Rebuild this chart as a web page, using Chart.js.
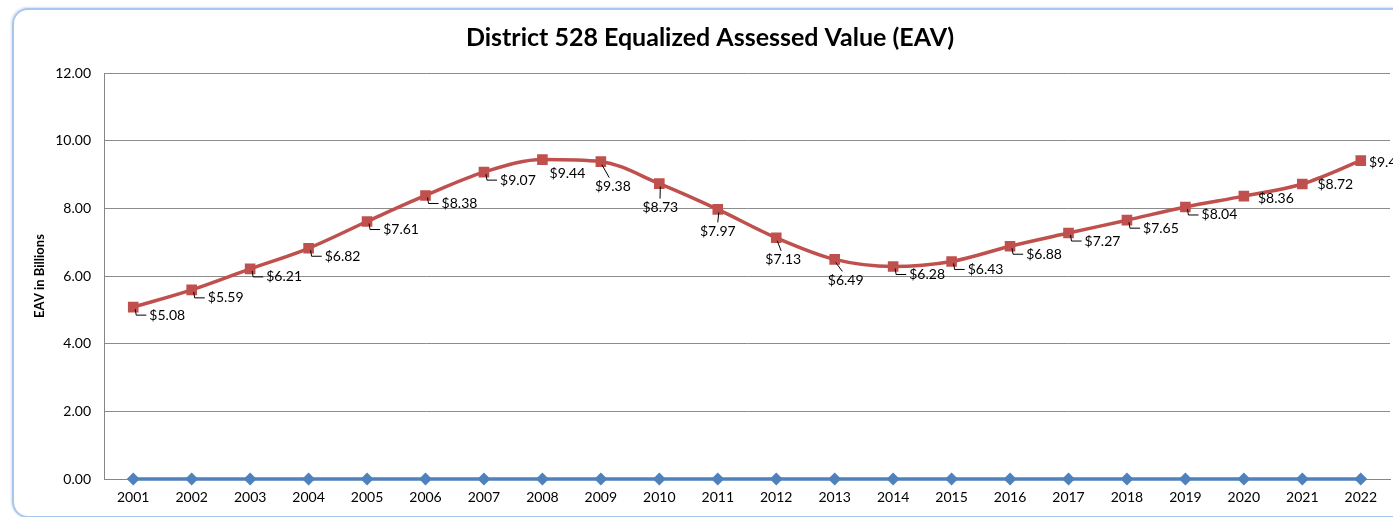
<!DOCTYPE html>
<html>
<head>
<meta charset="utf-8">
<title>District 528 EAV</title>
<script src="https://cdn.jsdelivr.net/npm/chart.js@4/dist/chart.umd.min.js"></script>
<style>
  html, body { margin: 0; padding: 0; background: #ffffff; overflow: hidden; }
  body { width: 1393px; height: 517px; position: relative; }
  #frame {
    position: absolute; left: 12px; top: 8px; width: 1440px; height: 506px;
    border: 2px solid #a9c6ec; border-radius: 16px;
    box-shadow: -1px -1px 2px #d3e3f7, 1px 1px 2px #c6d5e8;
  }
  #wrap { position: absolute; left: 0; top: 0; width: 1420px; height: 517px; }
</style>
</head>
<body>
<div id="frame"></div>
<div id="wrap"><canvas id="eavChart"></canvas></div>
<script>
// Data
const years = ["2001", "2002", "2003", "2004", "2005", "2006", "2007", "2008", "2009", "2010", "2011",
  "2012", "2013", "2014", "2015", "2016", "2017", "2018", "2019", "2020", "2021", "2022"];
const eavValues = [5.08, 5.59, 6.21, 6.82, 7.61, 8.38, 9.07, 9.44, 9.38, 8.73, 7.97,
  7.13, 6.49, 6.28, 6.43, 6.88, 7.27, 7.65, 8.04, 8.36, 8.72, 9.41];
const baseValues = [0, 0, 0, 0, 0, 0, 0, 0, 0, 0, 0, 0, 0, 0, 0, 0, 0, 0, 0, 0, 0, 0];
const yTicks = [0, 2, 4, 6, 8, 10, 12];

// label placement (text centre offset from point, leader line yes/no)
const R = [34, 8, true];
const labelPlacement = [R, R, R, R, R, R, R,
  [25, 14, false], [12, 25, true], [1, 24, true], [0, 22, true], [7, 22, true], [11, 21, true],
  R, R, R, R, R, R,
  [32, 2, false], [33, 1, false], [26, 2, false]];

const FONT = "Lato, 'Open Sans', sans-serif";

// draws "$x.xx" labels with small leader lines
const valueLabels = {
  id: "valueLabels",
  afterDatasetsDraw(chart) {
    const meta = chart.getDatasetMeta(0);
    const ctx = chart.ctx;
    ctx.save();
    ctx.font = "14px " + FONT;
    ctx.fillStyle = "#000000";
    ctx.strokeStyle = "#000000";
    ctx.lineWidth = 1;
    ctx.textAlign = "center";
    ctx.textBaseline = "middle";
    meta.data.forEach(function (pt, i) {
      const text = "$" + eavValues[i].toFixed(2);
      const p = labelPlacement[i];
      const tx = pt.x + p[0];
      const ty = pt.y + p[1];
      if (p[2]) {
        ctx.beginPath();
        if (p[0] > 20) {
          const left = tx - ctx.measureText(text).width / 2;
          ctx.moveTo(pt.x + 2, pt.y + 2);
          ctx.lineTo(pt.x + 3, ty);
          ctx.lineTo(left - 3, ty);
        } else {
          ctx.moveTo(pt.x + 1, pt.y + 3);
          ctx.lineTo(pt.x + p[0] * 0.7, ty - 9);
        }
        ctx.stroke();
      }
      ctx.fillText(text, tx, ty);
    });
    ctx.restore();
  },
};

document.addEventListener("DOMContentLoaded", function () {
  const ctx = document.getElementById("eavChart").getContext("2d");
  new Chart(ctx, {
    type: "line",
    data: {
      labels: years,
      datasets: [
        {
          label: "EAV",
          data: eavValues,
          borderColor: "#c0504d",
          backgroundColor: "#c0504d",
          borderWidth: 3.5,
          pointStyle: "rect",
          pointRadius: 7.5,
          pointBorderWidth: 0,
          cubicInterpolationMode: "monotone",
        },
        {
          label: "Base",
          data: baseValues,
          borderColor: "#4f81bd",
          backgroundColor: "#4f81bd",
          borderWidth: 3.5,
          pointStyle: "rectRot",
          pointRadius: 6.5,
          pointBorderWidth: 0,
          clip: false,
        },
      ],
    },
    options: {
      responsive: true,
      maintainAspectRatio: false,
      animation: false,
      layout: { padding: { left: 30, right: 30, top: 8, bottom: 8 } },
      plugins: {
        legend: { display: false },
        tooltip: { enabled: false },
        title: {
          display: true,
          text: "District 528 Equalized Assessed Value (EAV)",
          color: "#000000",
          font: { family: FONT, size: 25, weight: "bold" },
          padding: { top: 15, bottom: 20 },
        },
      },
      scales: {
        x: {
          offset: true,
          grid: { display: false, drawTicks: false },
          border: { display: true, color: "#868686" },
          ticks: { color: "#000000", padding: 10, maxRotation: 0, autoSkip: false,
            font: { family: FONT, size: 14 } },
          afterFit(scale) { scale.height = 30; },
        },
        y: {
          min: 0,
          max: 12,
          afterBuildTicks(scale) { scale.ticks = yTicks.map(v => ({ value: v })); },
          grid: { color: "#8c8c8c", drawTicks: false },
          border: { display: true, color: "#868686" },
          ticks: {
            color: "#000000",
            padding: 13,
            font: { family: FONT, size: 14 },
            callback: v => Number(v).toFixed(2),
          },
          title: {
            display: true,
            text: "EAV in Billions",
            color: "#000000",
            font: { family: FONT, size: 13, weight: "bold" },
            padding: { top: 2, bottom: 0 },
          },
          afterFit(scale) { scale.width = 74; },
        },
      },
    },
    plugins: [valueLabels],
  });
});
</script>
</body>
</html>
